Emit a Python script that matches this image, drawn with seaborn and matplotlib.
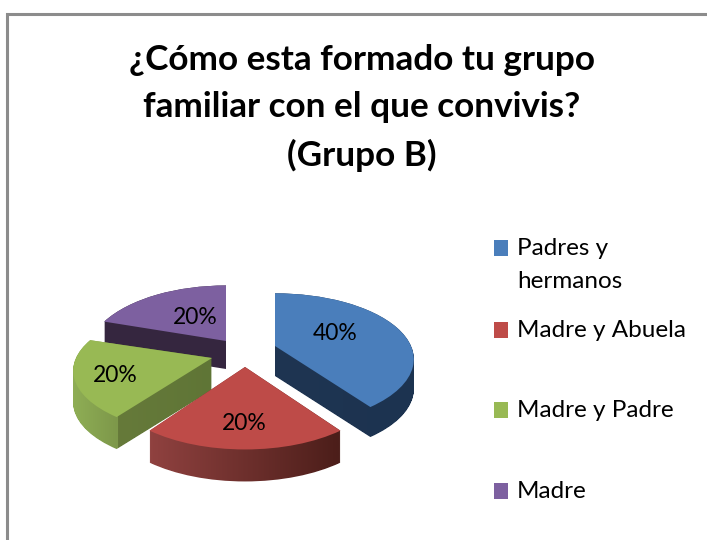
import numpy as np
import matplotlib
matplotlib.use('Agg')
import matplotlib.pyplot as plt
from matplotlib.patches import Rectangle
from matplotlib.path import Path
from matplotlib.transforms import Affine2D, Transform
import seaborn as sns

title = '¿Cómo esta formado tu grupo\nfamiliar con el que convivis?\n(Grupo B)'
categories = ['Padres y\nhermanos', 'Madre y Abuela', 'Madre y Padre', 'Madre']
values = [40, 20, 20, 20]
colors = ['#4a7ebb', '#be4b48', '#98b954', '#7d60a0']

sns.set_theme(style='white')
plt.rcParams['font.family'] = ['Lato', 'DejaVu Sans']


# Tilts the flat pie backwards, the front of it comes out bigger
class Tilt(Transform):
    input_dims = 2
    output_dims = 2
    has_inverse = False

    def transform_non_affine(self, values):
        u, v = values[:, 0], values[:, 1]
        w = 1 + 0.2 * v
        return np.column_stack([136 * u / w, -68 * v / w])


fig = plt.figure(figsize=(7.07, 5.40), dpi=100)
ax = fig.add_axes([0, 0, 1, 1])
wedges, _ = ax.pie(values, colors=colors, startangle=90, counterclock=False,
                   wedgeprops={'linewidth': 0})
ax.set_aspect('auto')

# per slice: apex in pixels, vertical squash, side depth, draw order, side colour stops
apex = [(275, 346), (245, 367), (212, 358), (226, 341)]
squash = [0.93, 0.97, 0.9, 0.98]
depth = [30, 32, 32, 28]
order = [3, 4, 2, 1]
stops = [
    [(270, '#1f3552'), (415, '#1c3350')],
    [(152, '#8f413f'), (338, '#4c1e1a')],
    [(72, '#8fae55'), (117, '#7d984a'), (118, '#667a3a'), (215, '#5f7536')],
    [(100, '#35263f'), (230, '#35263f')],
]

xs = np.arange(707)
for wedge, (x, y), s, d, z, stop in zip(wedges, apex, squash, depth, order, stops):
    tilt = Tilt() + Affine2D().scale(1, s).translate(x, y)
    wedge.set_transform(tilt + ax.transData)
    wedge.set_zorder(z * 2 + 1)

    # side of the slice: the wedge shape pulled down, filled with a gradient
    base = tilt.transform_path(wedge.get_path())
    layers = [base.transformed(Affine2D().translate(0, k)) for k in range(d + 1)]
    side = Path.make_compound_path(*layers)
    pos = [p[0] for p in stop]
    rgb = np.array([matplotlib.colors.to_rgb(p[1]) for p in stop])
    grad = np.stack([np.interp(xs, pos, rgb[:, i]) for i in range(3)], axis=1)[None, :, :]
    im = ax.imshow(grad, extent=(0, 707, 540, 0), aspect='auto', zorder=z * 2,
                   interpolation='nearest')
    im.set_clip_path(side, ax.transData)

# percent labels
label_pos = [(335, 333), (244, 423), (115, 376), (195, 318)]
total = sum(values)
for v, (x, y) in zip(values, label_pos):
    ax.text(x, y, f'{v / total:.0%}', fontsize=16.5, color='black',
            ha='center', va='center', zorder=20)

# legend
legend_y = [248, 330, 410, 491]
for name, c, y in zip(categories, colors, legend_y):
    ax.add_patch(Rectangle((494, y - 8), 14, 16, facecolor=c, linewidth=0, zorder=20))
    ax.text(517, y - 10, name, fontsize=17.5, color='black', ha='left', va='top',
            linespacing=1.72, zorder=20)

ax.text(362, 108, title, fontsize=25.3, fontweight='bold', color='black',
        ha='center', va='center', linespacing=1.57, zorder=20)

# chart frame
ax.plot([6.5, 6.5, 707], [540, 13.5, 13.5], color='#8c8c8c', linewidth=2.2,
        solid_joinstyle='miter', zorder=20)

ax.set_xlim(0, 707)
ax.set_ylim(540, 0)
ax.axis('off')

fig.savefig('out.png', dpi=100)
